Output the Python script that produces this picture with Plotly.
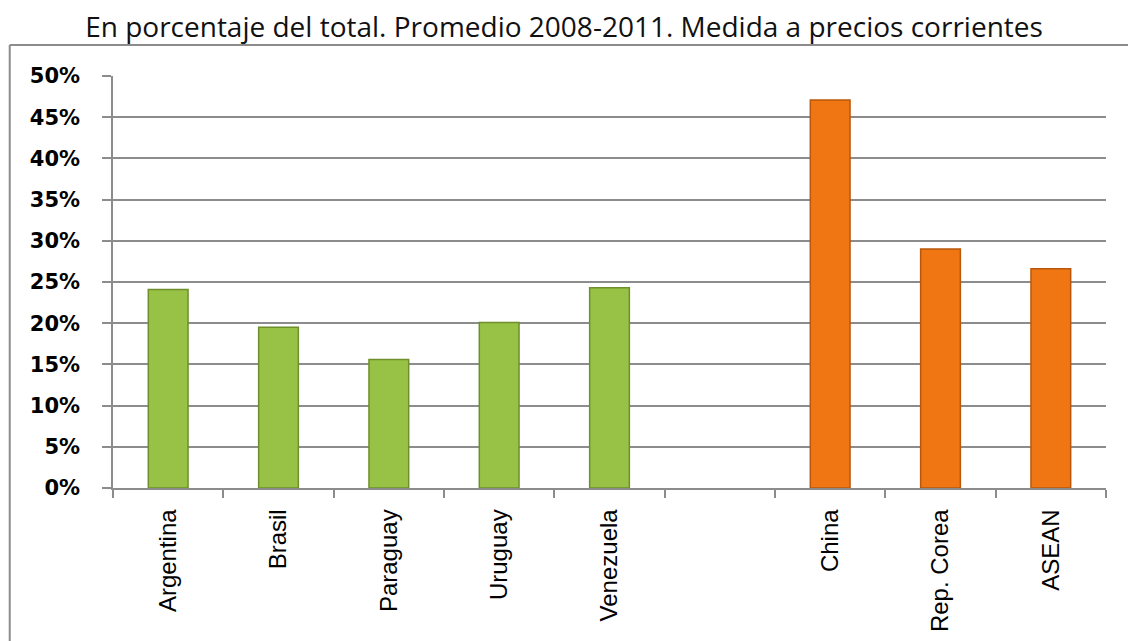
import plotly.graph_objects as go

categories = ["Argentina", "Brasil", "Paraguay", "Uruguay", "Venezuela", " ", "China", "Rep. Corea", "ASEAN"]
mercosur_vals = [0.241, 0.195, 0.156, 0.201, 0.243, None, None, None, None]
asia_vals = [None, None, None, None, None, None, 0.471, 0.290, 0.266]
title_text = "En porcentaje del total. Promedio 2008-2011. Medida a precios corrientes"

fig = go.Figure()
fig.add_trace(go.Bar(x=categories, y=mercosur_vals, width=0.36,
                     marker=dict(color="#98c245", line=dict(color="#6e8f2b", width=1.5)),
                     showlegend=False))
fig.add_trace(go.Bar(x=categories, y=asia_vals, width=0.36,
                     marker=dict(color="#ef7613", line=dict(color="#b9580c", width=1.5)),
                     showlegend=False))

fig.update_layout(
    width=1128, height=641,
    margin=dict(l=113, r=22, t=76, b=153, autoexpand=False),
    paper_bgcolor="white", plot_bgcolor="white",
    barmode="overlay",
    title=dict(text=title_text, x=0.5, xref="container", xanchor="center",
               y=1 - 27 / 641, yref="container", yanchor="middle",
               font=dict(family="Open Sans", size=28, color="#111")),
    xaxis=dict(type="category", categoryorder="array", categoryarray=categories,
               tickson="boundaries", ticks="outside", ticklen=8, tickcolor="#8c8c8c", tickwidth=1.5,
               tickangle=-90, showline=True, linecolor="#8c8c8c", linewidth=1.5,
               showgrid=False, tickfont=dict(family="Liberation Sans", size=24, color="black"),
               ticklabelstandoff=10, automargin=False, range=[-0.5, 8.5]),
    yaxis=dict(range=[0, 0.5], dtick=0.05, tickformat=".0%", ticks="outside", ticklen=9,
               tickcolor="#8c8c8c", tickwidth=1.5, showline=True, linecolor="#8c8c8c", linewidth=1.5,
               showgrid=True, gridcolor="#8c8c8c", gridwidth=1.5, zeroline=False,
               ticklabelstandoff=18, automargin=False,
               tickfont=dict(family="DejaVu Sans", size=21, color="black", weight="bold")),
    shapes=[
        dict(type="line", xref="paper", yref="paper", x0=-0.104, x1=1.03, y0=1.075, y1=1.075,
             line=dict(color="#8c8c8c", width=2)),
        dict(type="line", xref="paper", yref="paper", x0=-0.104, x1=-0.104, y0=1.075, y1=-0.4,
             line=dict(color="#8c8c8c", width=2)),
    ],
)

fig.write_html("out.html")
